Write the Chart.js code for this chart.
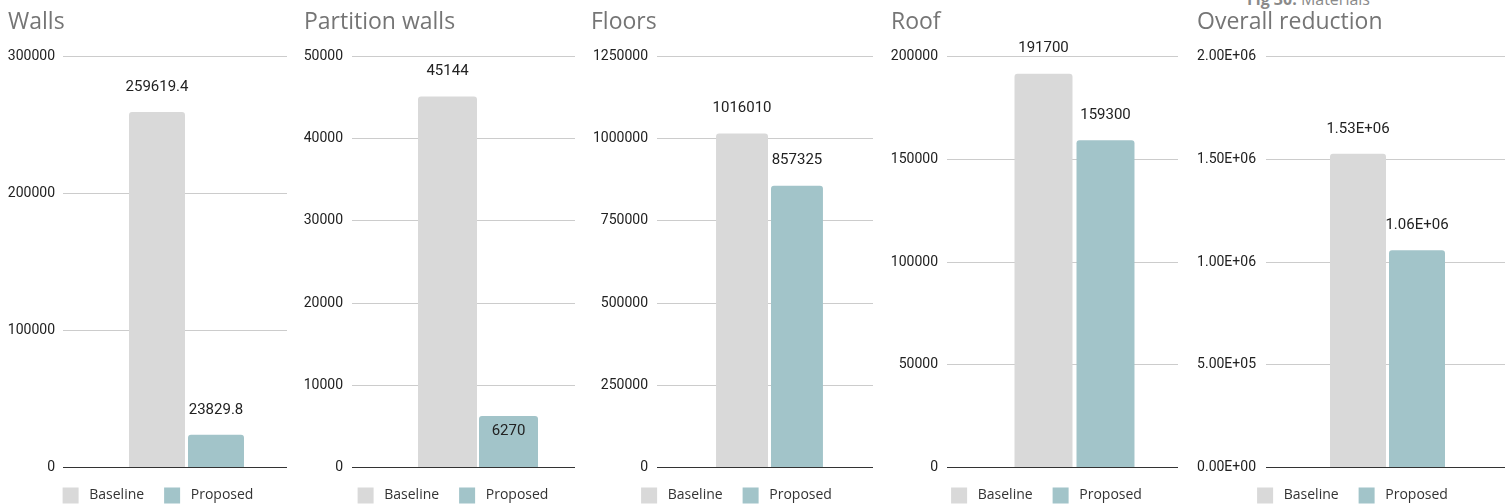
<!DOCTYPE html>
<html><head><meta charset="utf-8">
<script src="https://cdn.jsdelivr.net/npm/chart.js@4.4.1/dist/chart.umd.min.js"></script>
<style>
html,body{margin:0;padding:0;background:#fff;width:1505px;height:504px;overflow:hidden;position:relative;}
canvas{position:absolute;top:0;}
#fig{position:absolute;left:1247px;top:-9px;font-family:'Open Sans';font-size:16px;line-height:16px;color:#8a8a8a;white-space:nowrap;}
</style></head><body>
<div id="fig"><b>Fig 30:</b> Materials</div>
<canvas id="c0"></canvas><canvas id="c1"></canvas><canvas id="c2"></canvas><canvas id="c3"></canvas><canvas id="c4"></canvas>
<script>
// ---- data ----
const panelTitles = ['Walls', 'Partition walls', 'Floors', 'Roof', 'Overall reduction'];
const seriesNames = ['Baseline', 'Proposed'];
const baselineValues = [259619.4, 45144, 1016010, 191700, 1527000];
const proposedValues = [23829.8, 6270, 857325, 159300, 1058000];
const axisMax = [300000, 50000, 1250000, 200000, 2000000];
const axisStep = [100000, 10000, 250000, 50000, 500000];
const numberFormat = ['plain', 'plain', 'plain', 'plain', 'exp'];

// ---- layout / style per panel ----
const panelLayout = [
  {left: 8,    width: 300, axisW: 78, rightW: 21, ext: 23, pad: 8,  cat: 0.587, bar: 0.949, extR: 0,  inside: [false, false]},
  {left: 304,  width: 298, axisW: 77, rightW: 27, ext: 29, pad: 9,  cat: 0.629, bar: 0.967, extR: 0,  inside: [false, true]},
  {left: 591,  width: 291, axisW: 75, rightW: 9,  ext: 9,  pad: 9,  cat: 0.531, bar: 0.945, extR: 0,  inside: [false, false]},
  {left: 891,  width: 311, axisW: 80, rightW: 24, ext: 24, pad: 9,  cat: 0.599, bar: 0.935, extR: 0,  inside: [false, false]},
  {left: 1197, width: 311, axisW: 92, rightW: 22, ext: 23, pad: 10, cat: 0.599, bar: 0.949, extR: 22, inside: [false, false]}
];
const colors = ['#d9d9d9', '#a2c4c9'];

function fmtExp(v) {
  const parts = Number(v).toExponential(2).split('e');
  const n = parseInt(parts[1], 10);
  return parts[0] + 'E' + (n < 0 ? '-' : '+') + String(Math.abs(n)).padStart(2, '0');
}
function fmt(v, kind) { return kind === 'exp' ? fmtExp(v) : String(v); }

const gridColor = ctx => (ctx.tick && ctx.tick.value === 0) ? '#333333' : '#cccccc';

const valueLabels = {
  id: 'valueLabels',
  afterDatasetsDraw(chart, args, opts) {
    const ctx = chart.ctx;
    ctx.save();
    ctx.font = '15px Roboto';
    ctx.fillStyle = '#222222';
    ctx.textAlign = 'center';
    ctx.textBaseline = 'middle';
    chart.data.datasets.forEach((ds, di) => {
      const meta = chart.getDatasetMeta(di);
      meta.data.forEach((el, i) => {
        const txt = fmt(ds.data[i], opts.kind);
        const y = opts.inside[di] ? el.y + 15 : el.y - 25;
        ctx.fillText(txt, el.x, y);
      });
    });
    ctx.restore();
  }
};

panelTitles.forEach((title, p) => {
  const L = panelLayout[p];
  const cv = document.getElementById('c' + p);
  cv.width = L.width; cv.height = 504;
  cv.style.left = L.left + 'px';
  cv.style.width = L.width + 'px'; cv.style.height = '504px';
  const kind = numberFormat[p];
  new Chart(cv, {
    type: 'bar',
    data: {
      labels: [title],
      datasets: [
        {label: seriesNames[0], data: [baselineValues[p]], backgroundColor: colors[0], yAxisID: 'y'},
        {label: seriesNames[1], data: [proposedValues[p]], backgroundColor: colors[1], yAxisID: 'y'}
      ]
    },
    options: {
      responsive: false,
      animation: false,
      devicePixelRatio: 1,
      layout: {padding: {left: 0, right: 0, top: 0, bottom: -9.5}},
      datasets: {bar: {categoryPercentage: L.cat, barPercentage: L.bar, borderRadius: 3, borderSkipped: 'start'}},
      scales: {
        x: {display: false},
        y: {
          position: 'left', min: 0, max: axisMax[p],
          ticks: {stepSize: axisStep[p], padding: L.pad, color: '#222222', font: {family: 'Roboto', size: 14},
                  callback: v => fmt(v, kind)},
          grid: {color: gridColor, tickLength: L.ext, drawTicks: true, lineWidth: 1},
          border: {display: false},
          afterFit: s => { s.width = L.axisW; }
        },
        yR: {
          position: 'right', min: 0, max: axisMax[p],
          ticks: {stepSize: axisStep[p], display: false},
          grid: {display: L.extR > 0, drawOnChartArea: false, drawTicks: true, tickLength: L.extR, color: gridColor},
          border: {display: false},
          afterFit: s => { s.width = L.rightW; }
        }
      },
      plugins: {
        title: {display: true, text: title, align: 'start', color: '#757575',
                font: {family: 'Open Sans', size: 23, weight: 'normal'}, padding: {top: 9, bottom: 20}},
        legend: {
          display: true, position: 'bottom', align: 'center',
          labels: {
            boxWidth: 16, boxHeight: 16, padding: 20, color: '#333333',
            font: {family: 'Open Sans', size: 14},
            generateLabels: chart => Chart.defaults.plugins.legend.labels.generateLabels(chart)
              .map(l => Object.assign(l, {text: ' ' + l.text, lineWidth: 0, strokeStyle: 'rgba(0,0,0,0)'}))
          }
        },
        tooltip: {enabled: false},
        valueLabels: {kind: kind, inside: L.inside}
      }
    },
    plugins: [valueLabels]
  });
});
</script>
</body></html>
